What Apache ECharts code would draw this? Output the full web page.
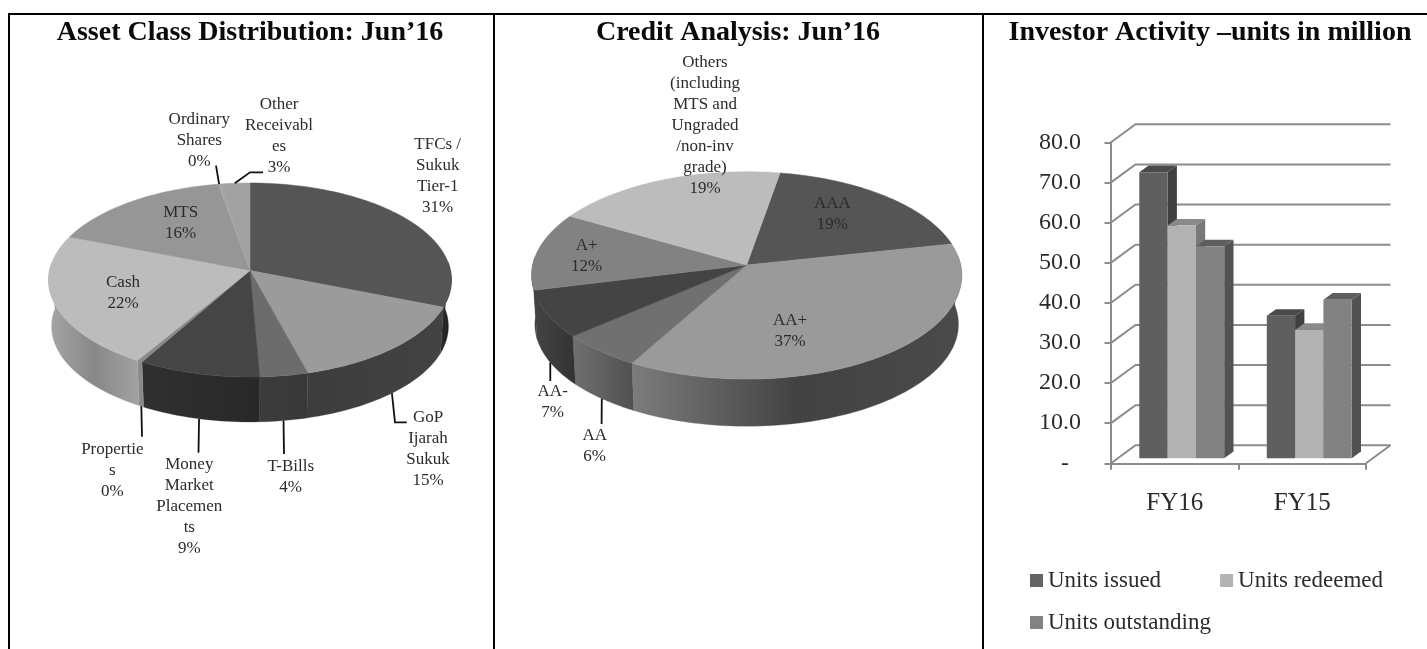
<!DOCTYPE html>
<html><head><meta charset="utf-8">
<style>html,body{margin:0;padding:0;background:#fff}#c{width:1427px;height:649px}</style>
<script src="https://cdn.jsdelivr.net/npm/echarts@6/dist/echarts.min.js"></script>
</head><body><div id="c"></div>
<script>
// ---- data ----
const assetCategories = ['TFCs /\nSukuk\nTier-1','GoP\nIjarah\nSukuk','T-Bills','Money\nMarket\nPlacemen\nts','Propertie\ns','Cash','MTS','Ordinary\nShares','Other\nReceivabl\nes'];
const assetValues = [31, 14.8, 3.5, 8.9, 0.4, 22.3, 16.35, 0.1, 2.65];
const creditCategories = ['AAA','AA+','AA','AA-','A+','Others\n(including\nMTS and\nUngraded\n/non-inv\ngrade)'];
const creditValues = [18.9, 36.5, 5.6, 7.4, 12.2, 19.4];
const years = ['FY16','FY15'];
const unitsIssued = [71.3, 35.5];
const unitsRedeemed = [58, 32];
const unitsOutstanding = [52.8, 39.5];
const yTicks = [0,10,20,30,40,50,60,70,80];

// ---- styles / layout ----
const FONT = '"Liberation Serif", serif';
const TXT = '#2b2b2b';
const assetGeom = {cx:250, cy:270.5, A:200.5, B:96.1, k:0.098, depth:46.5, shrink:0.985, start:0};
const creditGeom = {cx:746.7, cy:265, A:214, B:102.6, k:0.1, depth:49, shrink:0.985, start:9.85};
const assetTop = ['#555555','#9b9b9b','#6c6c6c','#454545','#8a8a8a','#bcbcbc','#969696','#aaaaaa','#a2a2a2'];
const assetSide = [['#2e2e2e','#1c1c1c'],['#3c3c3c','#434343'],['#3c3c3c','#383838'],['#303030','#282828'],['#8a8a8a','#8a8a8a'],['#a6a6a6','#888888','#a2a2a2'],['#888','#888'],['#888','#888'],['#888','#888']];
const creditTop = ['#555555','#9a9a9a','#707070','#444444','#828282','#bcbcbc'];
const creditSide = [['#333','#333'],['#7c7c7c','#424242','#4a4a4a'],['#707070','#505050'],['#444444','#333333'],['#444444','#444444'],['#666','#666']];
const assetLabelPos = [[437.7,176],[428,449],[290.7,477],[189.3,507],[112.3,470.5],[123,293],[180.7,223.3],[199.3,140.3],[279,136.3]];
const creditLabelPos = [[832.3,214],[790,331.2],[594.7,446.2],[552.7,401.8],[586.7,256.2],[705,125.3]];
const assetLeaders = [
  {i:1, rim:'bottom', path:[[395,422.3],[406.7,422.3]]},
  {i:2, rim:'bottom', path:[[284,454]]},
  {i:3, rim:'bottom', path:[[198.5,452.7]]},
  {i:4, rim:'bottom', path:[[142,436.7]]},
  {i:7, rim:'top', path:[[216,165.7]]},
  {i:8, rim:'top', path:[[250,172.3],[263,172.3]]}
];
const creditLeaders = [
  {i:2, rim:'bottom', path:[[601.6,424]]},
  {i:3, rim:'bottom', path:[[550.3,381]]}
];
const barFaces = [
  {front:'#5f5f5f', top:'#4a4a4a', side:'#404040', legend:'#636363'},
  {front:'#b2b2b2', top:'#8a8a8a', side:'#787878', legend:'#b2b2b2'},
  {front:'#828282', top:'#5e5e5e', side:'#525252', legend:'#838383'}
];

function project(g, deg, rim){
  const t = deg*Math.PI/180, u = Math.sin(t), v = Math.cos(t);
  const s = rim==='bottom' ? g.shrink : 1, off = rim==='bottom' ? g.depth : 0;
  const d = 1 + g.k*v;
  return [g.cx + g.A*s*u/d, g.cy + off - g.B*s*v/d];
}
function arc(g, a0, a1, rim){
  const n = Math.max(2, Math.ceil((a1-a0)/1.5)), pts = [];
  for(let j=0;j<=n;j++) pts.push(project(g, a0+(a1-a0)*j/n, rim));
  return pts;
}
function pieSeries(name, cats, vals, g, top, side, pos, leaders){
  const total = vals.reduce((a,b)=>a+b,0);
  const bounds = []; let acc = 0;
  vals.forEach(v=>{ const a0 = g.start+acc/total*360; acc+=v; bounds.push([a0, g.start+acc/total*360]); });
  return {
    type:'custom', name, coordinateSystem:'none', silent:true, animation:false, clip:false, z:3,
    data: cats.map((c,i)=>({name:c, value:vals[i]})),
    renderItem(params){
      const i = params.dataIndex, [a0,a1] = bounds[i], kids = [];
      // visible wall between the two tangents of the front rim
      const b0 = Math.max(a0,85), b1 = Math.min(a1,275);
      if(b1>b0){
        const st = side[i], stops = st.map((c,j)=>({offset:j/(st.length-1), color:c}));
        kids.push({type:'polygon', z2:1,
          shape:{points: arc(g,b0,b1,'top').concat(arc(g,b0,b1,'bottom').reverse())},
          style:{fill:new echarts.graphic.LinearGradient(0,0,1,0,stops), stroke:st[0], lineWidth:0.3}});
      }
      kids.push({type:'polygon', z2:5,
        shape:{points:[[g.cx,g.cy]].concat(arc(g,a0,a1,'top'))},
        style:{fill:top[i], stroke:top[i], lineWidth:0.5}});
      leaders.filter(l=>l.i===i).forEach(l=>{
        kids.push({type:'polyline', z2:8,
          shape:{points:[project(g,(a0+a1)/2,l.rim)].concat(l.path)},
          style:{fill:'none', stroke:'#111', lineWidth:1.8}});
      });
      kids.push({type:'text', z2:10,
        style:{text:cats[i]+'\n'+Math.round(vals[i]/total*100)+'%', x:pos[i][0], y:pos[i][1],
          align:'center', verticalAlign:'middle', fontSize:17, lineHeight:21, fontFamily:FONT, fill:TXT}});
      return {type:'group', children:kids};
    }
  };
}
const DEPTH = {x:9.3, y:-6.7}, FLOOR = {x:7, y:-5}, WALL = {x:24.5, y:-18};
function barSeries(name, vals, s){
  const f = barFaces[s];
  return {
    type:'custom', name, xAxisIndex:0, yAxisIndex:0, animation:false, silent:true, z:4,
    itemStyle:{color:f.legend},
    encode:{x:0,y:1},
    data: vals.map((v,i)=>[i,v]),
    renderItem(params, api){
      const p = api.coord([api.value(0), api.value(1)]), base = api.coord([api.value(0),0]);
      const w = api.size([1,0])[0]*0.222;
      const x0 = p[0]+FLOOR.x+(s-1.5)*w, x1 = x0+w, yt = p[1]+FLOOR.y, yb = base[1]+FLOOR.y;
      const dx = DEPTH.x, dy = DEPTH.y;
      return {type:'group', children:[
        {type:'polygon', shape:{points:[[x1,yt],[x1+dx,yt+dy],[x1+dx,yb+dy],[x1,yb]]}, style:{fill:f.side}},
        {type:'polygon', shape:{points:[[x0,yt],[x0+dx,yt+dy],[x1+dx,yt+dy],[x1,yt]]}, style:{fill:f.top}},
        {type:'rect', shape:{x:x0,y:yt,width:w,height:yb-yt}, style:{fill:f.front}}
      ]};
    }
  };
}
const wallSeries = {
  type:'custom', xAxisIndex:0, yAxisIndex:0, animation:false, silent:true, z:2,
  encode:{y:0}, data: yTicks.map(v=>[v]),
  renderItem(params, api){
    const v = api.value(0), r = params.coordSys;
    const y = api.coord([0,v])[1], xl = r.x, xr = r.x+r.width;
    const kids = [{type:'polyline', shape:{points:[[xl,y],[xl+WALL.x,y+WALL.y],[xr+WALL.x,y+WALL.y]]},
      style:{fill:'none', stroke:'#8c8c8c', lineWidth:2}}];
    if(v===0) kids.push({type:'polyline', shape:{points:[[xr,y],[xr+WALL.x,y+WALL.y]]},
      style:{fill:'none', stroke:'#8c8c8c', lineWidth:2}});
    return {type:'group', children:kids};
  }
};
const titleStyle = {fontFamily:FONT, fontWeight:'bold', fontSize:28, color:'#0a0a0a'};
const legendBase = {orient:'horizontal', icon:'rect', itemWidth:13, itemHeight:13, itemGap:59, selectedMode:false,
  textStyle:{fontFamily:FONT, fontSize:23, color:TXT}, padding:0};
const axisLine = {show:true, lineStyle:{color:'#8c8c8c', width:2}};
const axisTick = {show:true, length:6.5, lineStyle:{color:'#8c8c8c', width:2}};
const rect = (x,y,w,h)=>({type:'rect', silent:true, shape:{x,y,width:w,height:h}, style:{fill:'#000'}});

const chart = echarts.init(document.getElementById('c'), null, {renderer:'canvas'});
chart.setOption({
  backgroundColor:'#fff', animation:false,
  title:[
    {text:'Asset Class Distribution: Jun’16', left:250, top:33, padding:0, textAlign:'center', textVerticalAlign:'middle', textStyle:titleStyle},
    {text:'Credit Analysis: Jun’16', left:738, top:33, padding:0, textAlign:'center', textVerticalAlign:'middle', textStyle:titleStyle},
    {text:'Investor Activity –units in million', left:1210, top:33, padding:0, textAlign:'center', textVerticalAlign:'middle', textStyle:titleStyle}
  ],
  graphic:[rect(8,13,1419,2), rect(8,13,2,636), rect(493,13,2,636), rect(982,13,2,636)],
  grid:{left:1111, top:142.3, width:255, height:321},
  xAxis:{type:'category', data:years, axisLine, axisTick,
    axisLabel:{margin:28, fontFamily:FONT, fontSize:25, color:TXT, lineHeight:25}, splitLine:{show:false}},
  yAxis:{type:'value', min:0, max:80, interval:10, axisLine, axisTick, splitLine:{show:false},
    axisLabel:{margin:30, fontFamily:FONT, fontSize:24, color:TXT,
      formatter:v=> v===0 ? '-\u00a0\u00a0' : v.toFixed(1)}},
  legend:[
    {...legendBase, left:1030, top:569, data:['Units issued','Units redeemed']},
    {...legendBase, left:1030, top:611, data:['Units outstanding']}
  ],
  series:[
    pieSeries('Asset Class Distribution', assetCategories, assetValues, assetGeom, assetTop, assetSide, assetLabelPos, assetLeaders),
    pieSeries('Credit Analysis', creditCategories, creditValues, creditGeom, creditTop, creditSide, creditLabelPos, creditLeaders),
    wallSeries,
    barSeries('Units issued', unitsIssued, 0),
    barSeries('Units redeemed', unitsRedeemed, 1),
    barSeries('Units outstanding', unitsOutstanding, 2)
  ]
});
</script></body></html>
